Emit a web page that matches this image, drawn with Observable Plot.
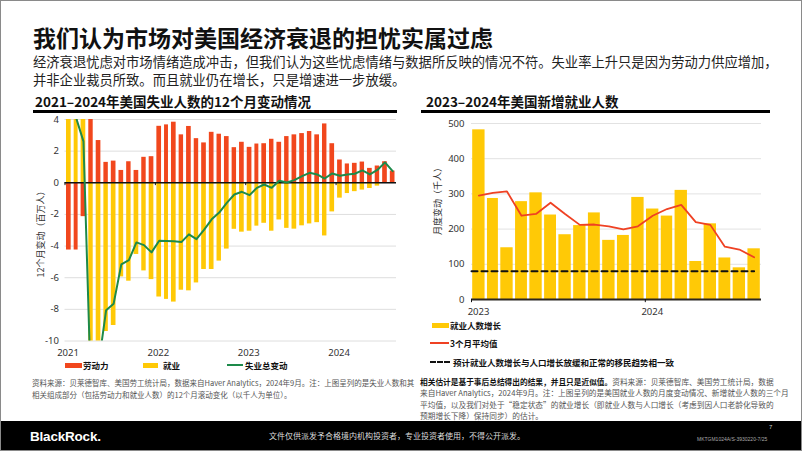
<!DOCTYPE html>
<html><head><meta charset="utf-8">
<script src="https://cdn.jsdelivr.net/npm/d3@7"></script>
<script src="https://cdn.jsdelivr.net/npm/@observablehq/plot@0.6"></script>
<style>
html,body{margin:0;padding:0;background:#fff;}
#page{position:relative;width:802px;height:451px;overflow:hidden;font-family:"Noto Sans CJK SC","Noto Sans",sans-serif;color:#111;}
.abs{position:absolute;white-space:nowrap;line-height:1;}
.frame{position:absolute;left:0;top:0;width:802px;height:451px;box-sizing:border-box;border:1px solid #8a8a8a;pointer-events:none;z-index:20;}
.rot{position:absolute;white-space:nowrap;line-height:1;transform:translate(-50%,-50%) rotate(-90deg);font-size:9px;color:#333;}
.leg{position:absolute;white-space:nowrap;line-height:1;font-size:8.5px;font-weight:700;color:#111;}
.sw{position:absolute;}
.note{position:absolute;white-space:nowrap;font-size:7.5px;color:#555;line-height:12px;}
</style></head>
<body>
<div id="page">
  <div class="abs" style="left:33px;top:26px;font-size:23px;font-weight:700;">我们认为市场对美国经济衰退的担忧实属过虑</div>
  <div class="abs" style="left:33px;top:52.5px;font-size:13.3px;line-height:18.5px;color:#222;">经济衰退忧虑对市场情绪造成冲击，但我们认为这些忧虑情绪与数据所反映的情况不符。失业率上升只是因为劳动力供应增加，<br>并非企业裁员所致。而且就业仍在增长，只是增速进一步放缓。</div>

  <div class="abs" style="left:35px;top:95px;font-size:13.5px;font-weight:700;">2021–2024年美国失业人数的12个月变动情况</div>
  <div class="abs" style="left:33px;top:110px;width:364px;height:3px;background:#000;"></div>
  <div class="abs" style="left:426px;top:95px;font-size:13.5px;font-weight:700;">2023–2024年美国新增就业人数</div>
  <div class="abs" style="left:421px;top:110px;width:349px;height:3px;background:#000;"></div>

  <div id="leftChart" style="position:absolute;left:0;top:105px;"></div>
  <div id="rightChart" style="position:absolute;left:400px;top:105px;"></div>

  <div class="rot" style="left:40px;top:232px;">12个月变动（百万人）</div>
  <div class="rot" style="left:437px;top:199px;">月度变动（千人）</div>

  <!-- left legend -->
  <div class="sw" style="left:65px;top:362.5px;width:17px;height:5px;background:#f1471d;"></div>
  <div class="leg" style="left:83px;top:360.5px;">劳动力</div>
  <div class="sw" style="left:143px;top:362.5px;width:15px;height:5px;background:#ffc906;"></div>
  <div class="leg" style="left:163px;top:360.5px;">就业</div>
  <div class="sw" style="left:227px;top:364px;width:16px;height:2px;background:#1d8a4a;"></div>
  <div class="leg" style="left:245px;top:360.5px;">失业总变动</div>

  <!-- right legend -->
  <div class="sw" style="left:432px;top:322.5px;width:17px;height:5px;background:#ffc906;"></div>
  <div class="leg" style="left:450px;top:320.5px;">就业人数增长</div>
  <div class="sw" style="left:430px;top:342px;width:19px;height:2px;background:#ef4123;"></div>
  <div class="leg" style="left:450px;top:338.5px;">3个月平均值</div>
  <div class="sw" style="left:430px;top:360.5px;width:20px;height:0;border-top:2px dashed #111;"></div>
  <div class="leg" style="left:453px;top:357.5px;">预计就业人数增长与人口增长放缓和正常的移民趋势相一致</div>

  <div class="note" style="left:32px;top:377px;">资料来源：贝莱德智库、美国劳工统计局，数据来自Haver Analytics，2024年9月。注：上图呈列的是失业人数和其<br>相关组成部分（包括劳动力和就业人数）的12个月滚动变化（以千人为单位）。</div>
  <div class="note" style="left:420px;top:376px;font-size:7.7px;line-height:11.4px;"><b style="color:#111;">相关估计是基于事后总结得出的结果，并且只是近似值。</b>资料来源：贝莱德智库、美国劳工统计局，数据<br>来自Haver Analytics，2024年9月。注：上图呈列的是美国就业人数的月度变动情况、新增就业人数的三个月<br>平均值，以及我们对处于“稳定状态”的就业增长（即就业人数与人口增长（考虑到因人口老龄化导致的<br>预期增长下降）保持同步）的估计。</div>

  <div class="abs" style="left:0;top:421px;width:802px;height:30px;background:#000;"></div>
  <div class="abs" style="left:30px;top:430px;font-family:'Liberation Sans',Arial,sans-serif;font-size:13.5px;font-weight:700;color:#fff;letter-spacing:-0.2px;">BlackRock.</div>
  <div class="abs" style="left:269px;top:432px;font-size:8px;color:#ddd;">文件仅供派发予合格境内机构投资者，专业投资者使用，不得公开派发。</div>
  <div class="abs" style="left:769px;top:424px;font-size:6px;color:#ccc;font-family:'Liberation Sans',sans-serif;">7</div>
  <div class="abs" style="left:697px;top:437px;font-size:5px;color:#aaa;font-family:'Liberation Sans',sans-serif;">MKTGM1024A/S-3930220-7/25</div>
  <div class="frame"></div>
</div>
<script>
// ---------- Left chart data (millions, 12-month change) ----------
const leftStart = new Date(Date.UTC(2021, 0, 1));
const leftEnd = new Date(Date.UTC(2024, 8, 1));
const leftMonths = d3.utcMonths(leftStart, leftEnd); // Jan 2021 – Aug 2024
const leftSeries = ["劳动力", "就业"];
const laborForce = [-4.25, -4.25, -2.14, 4.4, 2.67, 1.29, 1.37, 0.78, 1.33, 0.78, 1.61, 1.65,
  3.57, 3.66, 3.83, 3.03, 3.56, 2.79, 2.52, 3.19, 3.07, 2.92, 2.22, 2.56,
  2.24, 2.45, 2.47, 2.75, 2.56, 2.92, 3.03, 3.11, 3.24, 3.03, 3.72, 2.47,
  1.44, 1.19, 1.23, 1.31, 0.91, 1.06, 1.33, 0.74];
const employment = [8.55, 8.35, 4.76, -17.7, -14.2, -9.40, -9.02, -5.95, -6.22, -4.53, -5.57, -6.12,
  -7.22, -7.37, -7.54, -6.79, -6.83, -6.33, -5.48, -5.48, -4.95, -4.19, -2.94, -3.12,
  -3.06, -2.74, -2.56, -3.06, -2.35, -2.88, -2.93, -2.72, -2.60, -2.52, -3.36, -1.84,
  -0.97, -0.68, -0.56, -0.46, -0.36, -0.21, -0.04, 0];
const totalUnemployment = [4.3, 4.1, 2.62, -13.3, -11.5, -8.06, -7.64, -5.16, -4.89, -3.77, -3.94, -4.40,
  -3.66, -3.68, -3.70, -3.75, -3.26, -3.56, -2.98, -2.31, -1.88, -1.27, -0.74, -0.57,
  -0.78, -0.32, -0.11, -0.32, 0.13, 0.02, 0.17, 0.42, 0.63, 0.53, 0.27, 0.59,
  0.44, 0.53, 0.57, 0.78, 0.53, 0.81, 1.29, 0.74];
const leftYTicks = [-10, -8, -6, -4, -2, 0, 2, 4];
const leftYears = ["2021", "2022", "2023", "2024"];

// ---------- Right chart data (thousands) ----------
const rightStart = new Date(Date.UTC(2023, 0, 1));
const rightEnd = new Date(Date.UTC(2024, 8, 1));
const rightMonths = d3.utcMonths(rightStart, rightEnd); // Jan 2023 – Aug 2024
const payrolls = [482, 287, 147, 278, 303, 240, 184, 210, 246, 168, 182, 290,
  257, 237, 310, 108, 215, 118, 90, 144];
const avg3 = [295, 303, 307, 238, 243, 275, 243, 212, 213, 208, 199, 208,
  238, 257, 269, 220, 212, 150, 142, 120];
const steadyState = 80;
const rightYTicks = [0, 100, 200, 300, 400, 500];
const rightYears = ["2023", "2024"];

const RED = "#f1471d", YELLOW = "#ffc906", GREEN = "#1d8a4a", LINE_RED = "#ef4123";
const FONT = "'Noto Sans','Noto Sans CJK SC',sans-serif";
const mid = d => new Date((+d + +d3.utcMonth.offset(d, 1)) / 2);
const yearDate = y => new Date(Date.UTC(+y, 0, 1));
const plain = d => String(d);

const stackData = leftMonths.flatMap((d, i) => [
  {date: d, series: leftSeries[0], v: laborForce[i]},
  {date: d, series: leftSeries[1], v: employment[i]}
]);
const totals = leftMonths.map((d, i) => ({date: mid(d), v: totalUnemployment[i]}));

const left = Plot.plot({
  width: 400, height: 260,
  marginLeft: 64.5, marginRight: 4, marginTop: 14, marginBottom: 24.5,
  style: {fontFamily: FONT, fontSize: "9.5px", color: "#333", background: "transparent"},
  x: {type: "utc", domain: [leftStart, leftEnd]},
  y: {domain: [-10, 4]},
  color: {domain: leftSeries, range: [RED, YELLOW]},
  marks: [
    Plot.gridY({ticks: leftYTicks, stroke: "#dedede", strokeOpacity: 1}),
    Plot.rectY(stackData, {x: "date", y: "v", interval: d3.utcMonth, fill: "series", insetLeft: 1.5, insetRight: 1.5, clip: true}),
    Plot.ruleY([0], {stroke: "#111", strokeWidth: 1.5}),
    Plot.ruleX(leftYears.map(yearDate), {x: d => d, y1: 0, y2: -0.18, stroke: "#111", strokeWidth: 1}),
    Plot.lineY(totals, {x: "date", y: "v", stroke: GREEN, strokeWidth: 2, clip: true}),
    Plot.axisY({ticks: leftYTicks, tickFormat: plain, tickSize: 0, tickPadding: 6, label: null}),
    Plot.axisX({ticks: leftYears.map(yearDate), tickFormat: "%Y", tickSize: 0, tickPadding: 8, dx: 3, label: null})
  ]
});
document.getElementById("leftChart").append(left);

const right = Plot.plot({
  width: 402, height: 220,
  marginLeft: 71, marginRight: 41, marginTop: 18, marginBottom: 26,
  style: {fontFamily: FONT, fontSize: "9.5px", color: "#333", background: "transparent"},
  x: {type: "utc", domain: [rightStart, rightEnd]},
  y: {domain: [0, 500]},
  marks: [
    Plot.gridY({ticks: rightYTicks.filter(t => t > 0), stroke: "#e2e2e2", strokeOpacity: 1}),
    Plot.rectY(rightMonths, {x: d => d, y: (d, i) => payrolls[i], interval: d3.utcMonth, fill: YELLOW, insetLeft: 1.2, insetRight: 1.2}),
    Plot.lineY(rightMonths, {x: mid, y: (d, i) => avg3[i], stroke: LINE_RED, strokeWidth: 1.8}),
    Plot.lineY([rightMonths[0], mid(rightMonths[rightMonths.length - 1])], {x: d => d, y: () => steadyState, stroke: "#111", strokeWidth: 2, strokeDasharray: "6,4"}),
    Plot.ruleY([0], {stroke: "#2b2620", strokeWidth: 2}),
    Plot.ruleX(rightYears.map(yearDate), {x: d => d, y1: 0, y2: -9, stroke: "#111", strokeWidth: 1}),
    Plot.axisY({ticks: rightYTicks, tickFormat: plain, tickSize: 0, tickPadding: 7, label: null}),
    Plot.axisX({ticks: rightYears.map(yearDate), tickFormat: "%Y", tickSize: 0, tickPadding: 9, dx: 7, label: null})
  ]
});
document.getElementById("rightChart").append(right);
</script>
</body></html>
